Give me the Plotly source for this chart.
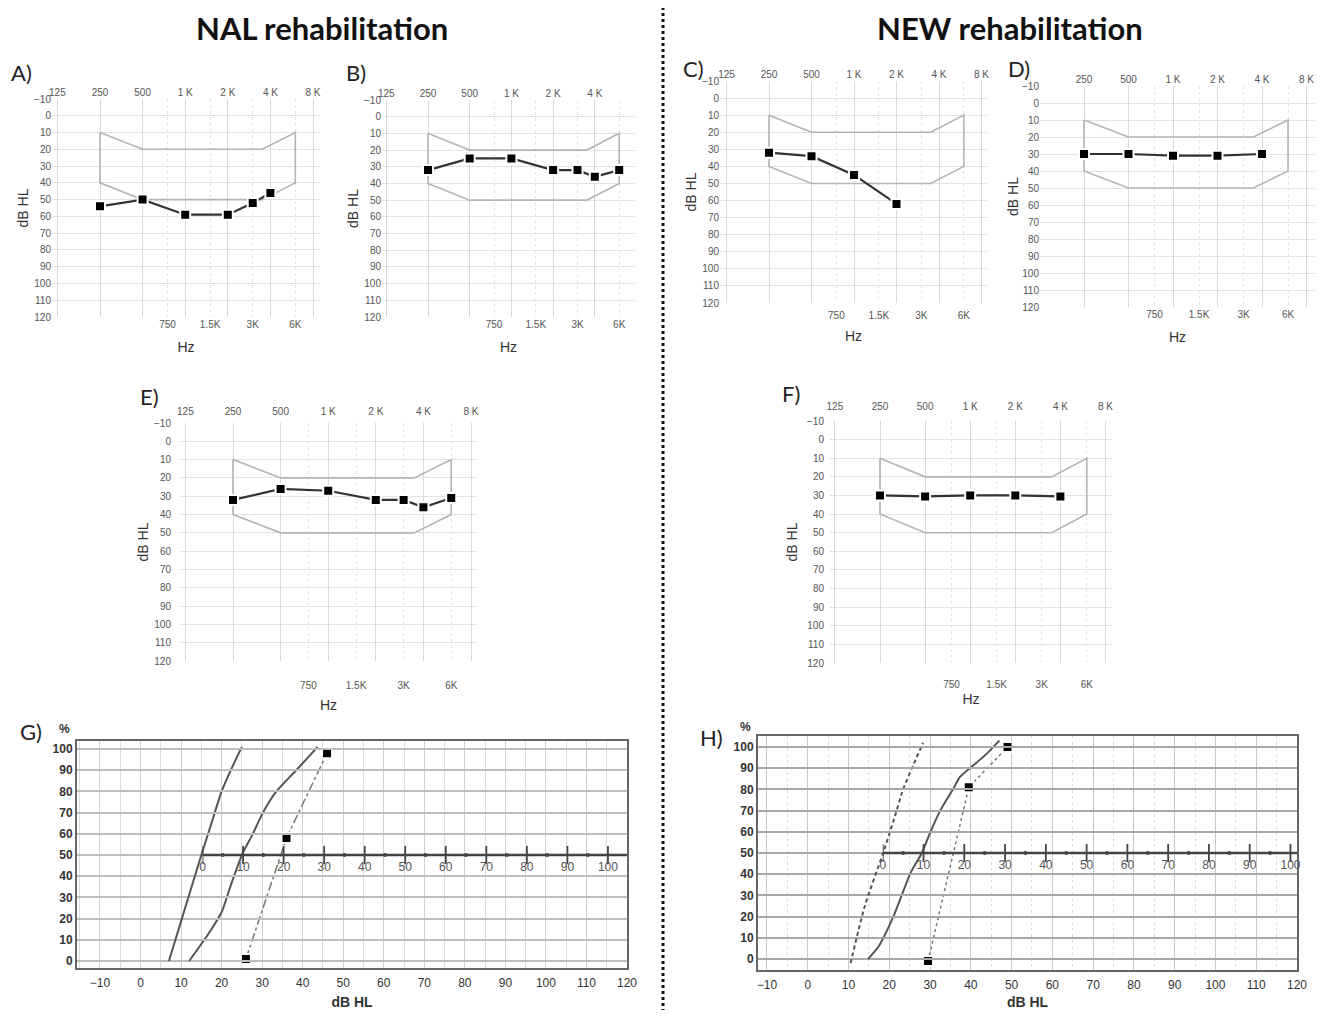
import math
import plotly.graph_objects as go

# page is rendered with an 8px body margin, so the figure is slightly smaller
OX, OY = 8, 8
W, H = 1325 - 2 * OX, 1018 - 2 * OY

# ---------------- data ----------------
freq_top_vals = [125, 250, 500, 1000, 2000, 4000, 8000]
freq_top_text = ["125", "250", "500", "1 K", "2 K", "4 K", "8 K"]
freq_bot_vals = [750, 1500, 3000, 6000]
freq_bot_text = ["750", "1.5K", "3K", "6K"]
db_ticks = list(range(-10, 121, 10))

# target (prescription) zone outline
zone_freqs = [250, 250, 500, 3500, 6000, 6000, 3500, 500, 250]
zone_levels = [10, 40, 50, 50, 40, 10, 20, 20, 10]

a_freqs = [250, 500, 1000, 2000, 3000, 4000]
a_levels = [54, 50, 59, 59, 52, 46]
b_freqs = [250, 500, 1000, 2000, 3000, 4000, 6000]
b_levels = [32, 25, 25, 32, 32, 36, 32]
c_freqs = [250, 500, 1000, 2000]
c_levels = [32, 34, 45, 62]
d_freqs = [250, 500, 1000, 2000, 4000]
d_levels = [30, 30, 31, 31, 30]
e_freqs = [250, 500, 1000, 2000, 3000, 4000, 6000]
e_levels = [32, 26, 27, 32, 32, 36, 31]
f_freqs = [250, 500, 1000, 2000, 4000]
f_levels = [30, 30.5, 30, 30, 30.5]

# speech audiometry
speech_db_ticks = list(range(-10, 121, 10))
pct_ticks = list(range(0, 101, 10))
scale_ticks = list(range(0, 101, 10))
scale_dots = list(range(5, 100, 10))

g_norm1_db = [7, 11, 15, 17.5, 20, 22.5, 25]
g_norm1_pct = [0, 25, 50, 65, 80, 91, 101]
g_norm2_db = [12, 15, 17.5, 20, 22.5, 25, 27.7, 30.2, 33.5, 38.4, 43.7]
g_norm2_pct = [0, 8, 15, 23, 37, 50, 60, 70, 80, 90, 101]
g_pat_db = [26, 36, 46]
g_pat_pct = [1, 58, 98]
g_scale_offset = 15.3

h_norm1_db = [10.5, 14, 18.5, 21, 23.4, 26, 28.3]
h_norm1_pct = [-2, 25, 50, 65, 80, 92, 102]
h_norm2_db = [14.8, 17.4, 21, 25.3, 28, 30.1, 32.5, 35.6, 37.4, 40.4, 44, 47]
h_norm2_pct = [0, 6, 20, 41, 50, 60, 70, 80, 86, 91, 97, 103]
h_pat_db = [29.5, 39.5, 49]
h_pat_pct = [-1, 81, 100]
h_scale_offset = 18.4

# ---------------- helpers (page pixel -> paper fraction) ----------------
def xdom(l, r):
    return [(l - OX) / W, (r - OX) / W]

def ydom(t, b):
    return [1 - (b - OY) / H, 1 - (t - OY) / H]

def logf(px, p250, octw):
    return math.log10(250) + (px - p250) / octw * math.log10(2)

def aname(kind, n):
    return f"{kind}axis" if n == 1 else f"{kind}axis{n}"

def aref(kind, n):
    return kind if n == 1 else f"{kind}{n}"

TICKFONT = dict(family="Liberation Sans", size=10, color="#555")
TITLEFONT = dict(family="Liberation Sans", size=14, color="#333")

fig = go.Figure()
layout = {}

# geometry + label spacing per audiogram panel
aud_panels = [
    dict(freqs=a_freqs, levels=a_levels, p250=100, octw=42.6, L=52, R=320, T=99, B=317,
         bgap=0, hz=13, tgap=0, ygap=0, yt=2),
    dict(freqs=b_freqs, levels=b_levels, p250=428, octw=41.7, L=382, R=635, T=100, B=317,
         bgap=0, hz=13, tgap=0, ygap=0, yt=2),
    dict(freqs=c_freqs, levels=c_levels, p250=769, octw=42.5, L=720, R=987, T=81, B=303,
         bgap=5, hz=11, tgap=0, ygap=0, yt=2),
    dict(freqs=d_freqs, levels=d_levels, p250=1084, octw=44.5, L=1040, R=1315, T=86, B=307,
         bgap=0, hz=13, tgap=0, ygap=0, yt=0),
    dict(freqs=e_freqs, levels=e_levels, p250=233, octw=47.6, L=180, R=477, T=423, B=661,
         bgap=17, hz=10, tgap=5, ygap=8, yt=2),
    dict(freqs=f_freqs, levels=f_levels, p250=880, octw=45.1, L=830, R=1112, T=421, B=663,
         bgap=14, hz=5, tgap=8, ygap=5, yt=6),
]

for i, p in enumerate(aud_panels):
    nb, nt, ny = 2 * i + 1, 2 * i + 2, i + 1
    lo = logf(p["L"], p["p250"], p["octw"])
    hi = logf(p["R"], p["p250"], p["octw"])
    layout[aname("x", nb)] = dict(
        type="log", range=[lo, hi], domain=xdom(p["L"], p["R"]), anchor=aref("y", ny),
        side="bottom", tickmode="array", tickvals=freq_bot_vals, ticktext=freq_bot_text,
        ticks="", showgrid=True, gridcolor="#e4e4e4", griddash="dot", gridwidth=1,
        showline=False, zeroline=False, tickfont=TICKFONT, automargin=False,
        ticklabelstandoff=p["bgap"],
        title=dict(text="Hz", font=TITLEFONT, standoff=p["hz"]), fixedrange=True,
    )
    layout[aname("x", nt)] = dict(
        type="log", range=[lo, hi], overlaying=aref("x", nb), anchor=aref("y", ny),
        side="top", tickmode="array", tickvals=freq_top_vals, ticktext=freq_top_text,
        ticks="", showgrid=True, gridcolor="#d8d8d8", gridwidth=1, showline=False,
        zeroline=False, tickfont=TICKFONT, automargin=False, fixedrange=True,
        ticklabelstandoff=p["tgap"],
    )
    layout[aname("y", ny)] = dict(
        range=[120, -10], domain=ydom(p["T"], p["B"]), anchor=aref("x", nb),
        tickmode="array", tickvals=db_ticks, ticks="", showgrid=True,
        gridcolor="#e2e2e2", gridwidth=1, zeroline=False, showline=False,
        tickfont=TICKFONT, automargin=False, fixedrange=True,
        ticklabelstandoff=p["ygap"],
        title=dict(text="dB HL", font=TITLEFONT, standoff=p["yt"]),
    )
    fig.add_trace(go.Scatter(
        x=zone_freqs, y=zone_levels, mode="lines",
        line=dict(color="#b4b4b4", width=1.6),
        xaxis=aref("x", nb), yaxis=aref("y", ny), hoverinfo="skip", showlegend=False,
    ))
    fig.add_trace(go.Scatter(
        x=p["freqs"], y=p["levels"], mode="lines+markers",
        line=dict(color="#333", width=2.2),
        marker=dict(symbol="square", size=10, color="#000", line=dict(color="white", width=2)),
        xaxis=aref("x", nt), yaxis=aref("y", ny), showlegend=False,
    ))

# ---------------- speech audiometry panels ----------------
SP_TICK = dict(family="Liberation Sans", size=12, color="#333")
SP_YTICK = dict(family="Liberation Sans", size=12, color="#333", weight="bold")

speech_panels = [
    dict(n1=(g_norm1_db, g_norm1_pct, "solid"), n2=(g_norm2_db, g_norm2_pct, "solid"),
         pat=(g_pat_db, g_pat_pct, "dashdot"), off=g_scale_offset, L=77, R=627, T=741, B=968,
         dbL=-15.67, dbR=120, pB=-3.3, pT=103.8, grid_v="#cfcfcf", grid_h="#bdbdbd", tst=8),
    dict(n1=(h_norm1_db, h_norm1_pct, "4px,3px"), n2=(h_norm2_db, h_norm2_pct, "solid"),
         pat=(h_pat_db, h_pat_pct, "dot"), off=h_scale_offset, L=758, R=1297, T=736, B=970,
         dbL=-12.2, dbR=120, pB=-5.2, pT=105.2, grid_v="#c8c8c8", grid_h="#a8a8a8", tst=11),
]

for j, s in enumerate(speech_panels):
    nx, nx2, ny = 13 + 2 * j, 14 + 2 * j, 7 + j
    xr, x2r, yr = aref("x", nx), aref("x", nx2), aref("y", ny)
    layout[aname("x", nx)] = dict(
        range=[s["dbL"], s["dbR"]], domain=xdom(s["L"], s["R"]), anchor=yr,
        tickmode="array", tickvals=speech_db_ticks, ticks="", showgrid=True,
        gridcolor=s["grid_v"], gridwidth=1,
        minor=dict(dtick=5, tick0=0, showgrid=True, gridcolor="#dcdcdc",
                   griddash="dot" if j else "solid"),
        zeroline=False, showline=True, linecolor="#666", linewidth=2, mirror=True,
        tickfont=SP_TICK, automargin=False, fixedrange=True, ticklabelstandoff=3,
        title=dict(text="dB HL", font=dict(family="Liberation Sans", size=14, color="#333",
                                           weight="bold"), standoff=s["tst"]),
    )
    layout[aname("y", ny)] = dict(
        range=[s["pB"], s["pT"]], domain=ydom(s["T"], s["B"]), anchor=xr,
        tickmode="array", tickvals=pct_ticks, ticks="", showgrid=True,
        gridcolor=s["grid_h"], gridwidth=1.5, zeroline=False, showline=True,
        linecolor="#666", linewidth=2, mirror=True, tickfont=SP_YTICK,
        automargin=False, fixedrange=True,
    )
    # secondary (speech level) scale drawn along the 50 % line
    frac50 = (50 - s["pB"]) / (s["pT"] - s["pB"])
    ydm = ydom(s["T"], s["B"])
    pos50 = ydm[0] + frac50 * (ydm[1] - ydm[0])
    px0 = s["L"] + (s["off"] - s["dbL"]) / (s["dbR"] - s["dbL"]) * (s["R"] - s["L"])
    sec_hi = s["dbR"] - s["off"]
    layout[aname("x", nx2)] = dict(
        range=[0, sec_hi], domain=xdom(px0, s["R"]), anchor="free", position=pos50,
        tickmode="array", tickvals=scale_ticks, ticks="", showgrid=False,
        zeroline=False, showline=False, automargin=False, fixedrange=True,
        tickfont=dict(family="Liberation Sans", size=12, color="#555"),
        ticklabelstandoff=3,
    )
    fig.add_trace(go.Scatter(
        x=[0, sec_hi], y=[50, 50], mode="lines", line=dict(color="#444", width=2.5),
        xaxis=x2r, yaxis=yr, hoverinfo="skip", showlegend=False,
    ))
    fig.add_trace(go.Scatter(
        x=scale_ticks, y=[50] * len(scale_ticks), mode="markers",
        marker=dict(symbol="line-ns", size=13, line=dict(color="#444", width=1.8)),
        xaxis=x2r, yaxis=yr, hoverinfo="skip", showlegend=False,
    ))
    fig.add_trace(go.Scatter(
        x=scale_dots, y=[50] * len(scale_dots), mode="markers",
        marker=dict(symbol="circle", size=4, color="#444"),
        xaxis=x2r, yaxis=yr, hoverinfo="skip", showlegend=False,
    ))
    for (dbs, pcts, dash) in (s["n1"], s["n2"]):
        fig.add_trace(go.Scatter(
            x=dbs, y=pcts, mode="lines",
            line=dict(color="#555", width=2, dash=dash, shape="spline", smoothing=0.6),
            xaxis=xr, yaxis=yr, showlegend=False,
        ))
    fig.add_trace(go.Scatter(
        x=s["pat"][0], y=s["pat"][1], mode="lines+markers",
        line=dict(color="#777", width=1.5, dash=s["pat"][2]),
        marker=dict(symbol="square", size=10, color="#000", line=dict(color="white", width=2)),
        xaxis=xr, yaxis=yr, showlegend=False, cliponaxis=False,
    ))

# ---------------- annotations ----------------
ann = []
def add_text(text, x, y, size, bold=False, family="Lato", color="#111"):
    ann.append(dict(text=f"<b>{text}</b>" if bold else text,
                    x=(x - OX) / W, y=1 - (y - OY) / H,
                    xref="paper", yref="paper", showarrow=False,
                    font=dict(family=family, size=size, color=color),
                    xanchor="center", yanchor="middle"))

add_text("NAL rehabilitation", 322, 28, 31, bold=True)
add_text("NEW rehabilitation", 1010, 28, 31, bold=True)
for lab, x, y in [("A)", 21, 72), ("B)", 356, 72), ("C)", 693, 68), ("D)", 1019, 68),
                  ("E)", 149, 397), ("F)", 791, 393), ("G)", 31, 731), ("H)", 711, 737)]:
    add_text(lab, x, y, 22, family="Lato", color="#222")
add_text("%", 64, 729, 12, bold=True, family="Liberation Sans", color="#333")
add_text("%", 745, 727, 12, bold=True, family="Liberation Sans", color="#333")

shapes = [dict(type="line", xref="paper", yref="paper",
               x0=(663 - OX) / W, x1=(663 - OX) / W, y0=-0.02, y1=1.02,
               line=dict(color="#111", width=3, dash="dot"))]

layout.update(dict(
    width=W, height=H, margin=dict(l=0, r=0, t=0, b=0),
    paper_bgcolor="white", plot_bgcolor="rgba(0,0,0,0)",
    annotations=ann, shapes=shapes, showlegend=False,
))
fig.update_layout(**layout)
fig.write_html("out.html")
